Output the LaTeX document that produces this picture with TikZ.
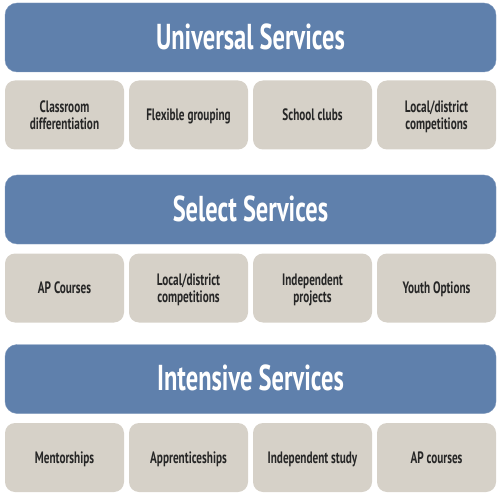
\documentclass[tikz,border=0pt]{standalone}
\usepackage{fontspec}
\setmainfont{PT Sans}[FakeStretch=0.68]
\usepackage{tikz}
\usetikzlibrary{positioning}
\definecolor{tierblue}{RGB}{95,128,172}
\definecolor{itembeige}{RGB}{214,209,200}

\begin{document}
\begin{tikzpicture}[x=1pt,y=-1pt,
  tier/.style={fill=tierblue,draw=tierblue!80!white,rounded corners=12pt,minimum width=491pt,
               minimum height=69pt,text=white,text depth=2pt,font=\fontsize{36}{38}\selectfont\bfseries},
  item/.style={fill=itembeige,rounded corners=10pt,minimum width=119pt,minimum height=69pt,
               align=center,text=black!85,text depth=0pt,font=\fontsize{16.5}{16.5}\selectfont\bfseries}
]
\useasboundingbox (0,0) rectangle (500,494);
% Tiers at y = 37.5, 209.5, 379; item rows at 115, 288, 457.5
% Item columns at x = 64.5, 188.5, 312.5, 436.5
\node[tier] (uni) at (250.5,37.5) {Universal Services};
\node[item] (uni1) at (64.5,115)  {Classroom\\differentiation};
\node[item] (uni2) at (188.5,115) {Flexible grouping};
\node[item] (uni3) at (312.5,115) {School clubs};
\node[item] (uni4) at (436.5,115) {Local/district\\competitions};

\node[tier] (sel) at (250.5,209.5) {Select Services};
\node[item] (sel1) at (64.5,288)  {AP Courses};
\node[item] (sel2) at (188.5,288) {Local/district\\competitions};
\node[item] (sel3) at (312.5,288) {Independent\\projects};
\node[item] (sel4) at (436.5,288) {Youth Options};

\node[tier] (int) at (250.5,379) {Intensive Services};
\node[item] (int1) at (64.5,457.5)  {Mentorships};
\node[item] (int2) at (188.5,457.5) {Apprenticeships};
\node[item] (int3) at (312.5,457.5) {Independent study};
\node[item] (int4) at (436.5,457.5) {AP courses};
\end{tikzpicture}
\end{document}
